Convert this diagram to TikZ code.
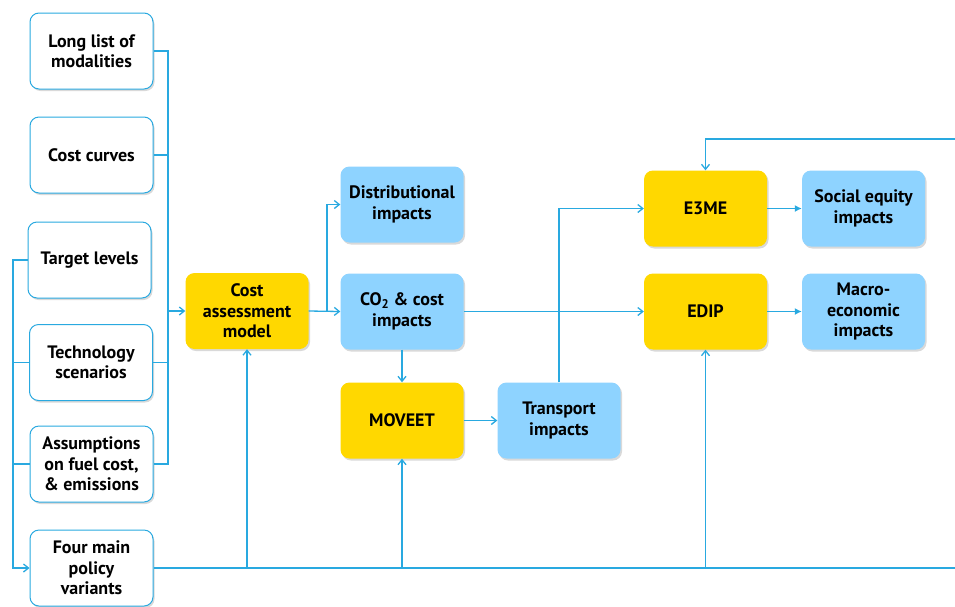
\documentclass[tikz,border=0pt]{standalone}
\usepackage{fontspec}
\setmainfont{PT Sans}
\usetikzlibrary{positioning,shadows,arrows.meta}
\definecolor{linecol}{RGB}{41,169,224}
\definecolor{modelcol}{RGB}{255,216,0}
\definecolor{impactcol}{RGB}{142,211,255}
\tikzset{
  box/.style={rounded corners=9pt, minimum width=123pt, minimum height=76pt,
    align=center, font=\fontsize{18}{20.5}\selectfont\bfseries,
    drop shadow={shadow xshift=1.5pt, shadow yshift=-2pt, opacity=0.3}},
  inbox/.style={box, draw=linecol, line width=1pt, fill=white},
  modelbox/.style={box, fill=modelcol},
  impactbox/.style={box, fill=impactcol},
  link/.style={draw=linecol, line width=1.3pt},
}
\begin{document}
\begin{tikzpicture}[x=1pt, y=-1pt, >={Straight Barb[length=5pt,width=8pt]}]
\useasboundingbox (0,0) rectangle (955,606);
% inputs
\node[inbox] (list) at (91.5,51) {Long list of\\modalities};
\node[inbox] (curves) at (91.5,155) {Cost curves};
\node[inbox] (target) at (89.5,260) {Target levels};
\node[inbox] (techno) at (91,362.5) {Technology\\scenarios};
\node[inbox] (assump) at (91.5,464) {Assumptions\\on fuel cost,\\\& emissions};
\node[inbox] (policy) at (91.5,568) {Four main\\policy\\variants};

% models and impacts
\node[modelbox] (cost) at (247,311) {Cost\\assessment\\model};
\node[impactbox] (distr) at (402,204.5) {Distributional\\impacts};
\node[impactbox] (co2) at (402,311.5) {CO\textsubscript{2} \& cost\\impacts};
\node[modelbox] (moveet) at (402,420.5) {MOVEET};
\node[impactbox] (transp) at (559,420.5) {Transport\\impacts};
\node[modelbox] (e3me) at (705.5,208.5) {E3ME};
\node[modelbox] (edip) at (705.5,311.5) {EDIP};
\node[impactbox] (social) at (863.5,208.5) {Social equity\\impacts};
\node[impactbox] (macro) at (863.5,311.5) {Macro-\\economic\\impacts};

% bus lines
\coordinate (rtop) at (168,51);
\coordinate (rbot) at (168,464);
\coordinate (ltop) at (13,260);
\coordinate (split) at (327,311);
\coordinate (bend) at (955,568);
\coordinate (topend) at (955,139);

\draw[link] (list.east) -- (rtop) -- (rbot) -- (assump.east);
\draw[link] (curves.east) -- (curves.east -| rtop);
\draw[link] (techno.east) -- (techno.east -| rtop);
\draw[link,->] (cost.west -| rtop) -- (cost.west);

\draw[link,->] (target.west) -- (ltop) |- (policy.west);
\draw[link] (techno.west) -- (techno.west -| ltop);
\draw[link] (assump.west) -- (assump.west -| ltop);

\draw[link] (policy.east) -- (bend);
\draw[link,->] (policy.east -| cost) -- (cost.south);
\draw[link,->] (policy.east -| moveet) -- (moveet.south);
\draw[link,->] (policy.east -| edip) -- (edip.south);

\draw[link,->] (cost.east) -- (co2.west);
\draw[link,->] (split) |- (distr.west);
\draw[link,->] (co2) -- (moveet);
\draw[link,->] (moveet) -- (transp);
\draw[link,->] (transp.north) |- (e3me.west);
\draw[link,->] (co2.east) -- (edip.west);
\draw[link,-{Latex[length=7pt,width=7pt]}] (e3me) -- (social);
\draw[link,-{Latex[length=7pt,width=7pt]}] (edip) -- (macro);
\draw[link,->] (topend) -| (e3me.north);
\end{tikzpicture}
\end{document}
